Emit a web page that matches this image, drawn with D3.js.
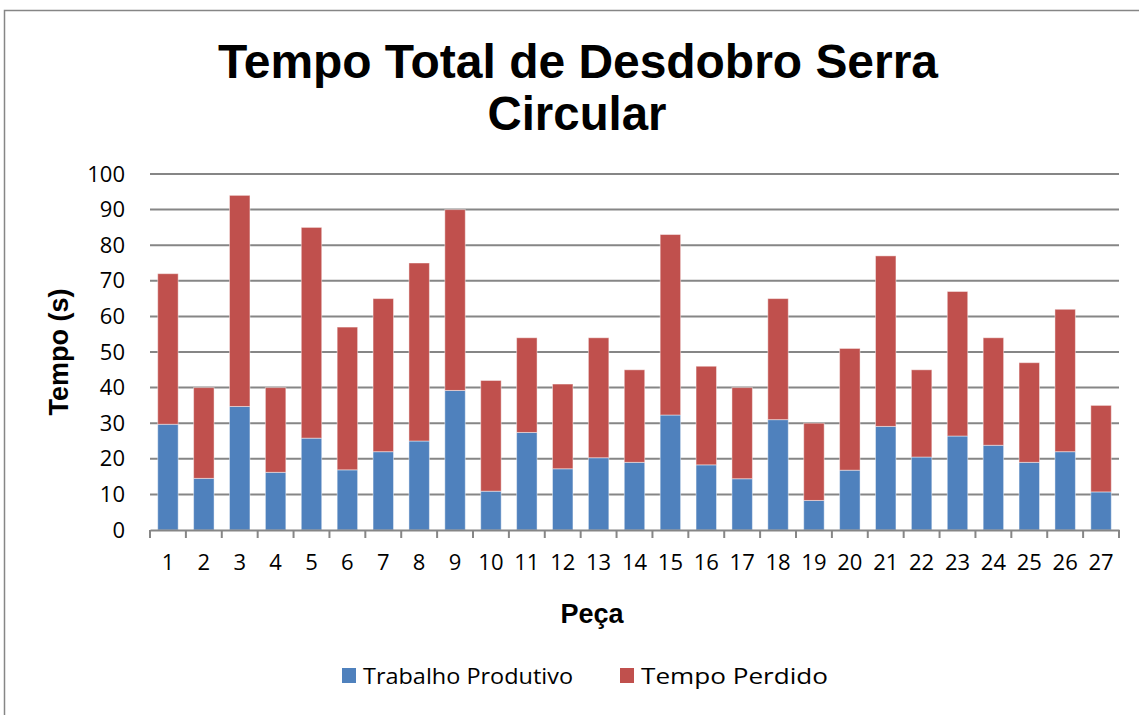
<!DOCTYPE html>
<html>
<head>
<meta charset="utf-8">
<script src="https://cdn.jsdelivr.net/npm/d3@7"></script>
<style>
  body { margin: 0; background: #fff; }
  svg { display: block; }
</style>
</head>
<body>
<script>
// DATA
const pecas = d3.range(1, 28).map(String);
const trabalhoProdutivo = [29.7, 14.5, 34.7, 16.2, 25.8, 16.9, 22.0, 25.0, 39.2, 10.9, 27.4, 17.2, 20.3, 19.0, 32.3, 18.3, 14.4, 31.0, 8.3, 16.8, 29.1, 20.5, 26.4, 23.8, 19.0, 22.0, 10.7];
const tempoTotal = [72, 40, 94, 40, 85, 57, 65, 75, 90, 42, 54, 41, 54, 45, 83, 46, 40, 65, 30, 51, 77, 45, 67, 54, 47, 62, 35];
const tempoPerdido = tempoTotal.map((t, i) => +(t - trabalhoProdutivo[i]).toFixed(1));
const yTicks = [0, 10, 20, 30, 40, 50, 60, 70, 80, 90, 100];
const seriesNames = ["Trabalho Produtivo", "Tempo Perdido"];
const colors = ["#4F81BD", "#C0504D"];

// SIZES
const W = 1139, H = 715;
const plot = {left: 150, right: 1119, top: 174, bottom: 530};

const svg = d3.select("body").append("svg")
  .attr("width", W)
  .attr("height", H);

// CHART BORDER
svg.append("rect")
  .attr("x", 4.5).attr("y", 10.5)
  .attr("width", W + 10).attr("height", H + 10)
  .attr("fill", "#fff")
  .attr("stroke", "#868686")
  .attr("stroke-width", 1.5);

// SCALES
const x = d3.scaleBand()
  .domain(pecas)
  .range([plot.left, plot.right])
  .paddingInner(0.43)
  .paddingOuter(0.215);

const y = d3.scaleLinear()
  .domain([0, 100])
  .range([plot.bottom, plot.top]);

// GRIDLINES
svg.append("g")
  .selectAll("line")
  .data(yTicks.filter(d => d > 0))
  .join("line")
  .attr("x1", plot.left).attr("x2", plot.right)
  .attr("y1", d => y(d)).attr("y2", d => y(d))
  .attr("stroke", "#868686")
  .attr("stroke-width", 2);

// STACKED BARS
const table = pecas.map((p, i) => ({peca: p, "Trabalho Produtivo": trabalhoProdutivo[i], "Tempo Perdido": tempoPerdido[i]}));
const stacked = d3.stack().keys(seriesNames)(table);

svg.append("g")
  .selectAll("g")
  .data(stacked)
  .join("g")
  .attr("fill", (d, i) => colors[i])
  .selectAll("rect")
  .data(d => d)
  .join("rect")
  .attr("x", d => x(d.data.peca))
  .attr("y", d => y(d[1]))
  .attr("width", x.bandwidth())
  .attr("height", d => y(d[0]) - y(d[1]))
  .attr("stroke", "rgba(255,255,255,0.45)")
  .attr("stroke-width", 1);

// X AXIS
const xAxis = svg.append("g")
  .attr("transform", `translate(0,${plot.bottom})`)
  .call(d3.axisBottom(x).tickSize(0).tickPadding(24));
xAxis.select(".domain").attr("stroke", "#868686").attr("stroke-width", 2);
xAxis.selectAll("text")
  .style("font-family", "'Open Sans', sans-serif")
  .style("font-size", "22px")
  .attr("fill", "#000");

// category boundary ticks
svg.append("g")
  .selectAll("line")
  .data(d3.range(pecas.length + 1))
  .join("line")
  .attr("x1", i => plot.left + i * x.step())
  .attr("x2", i => plot.left + i * x.step())
  .attr("y1", plot.bottom)
  .attr("y2", plot.bottom + 8)
  .attr("stroke", "#868686")
  .attr("stroke-width", 2);

// Y AXIS
const yAxis = svg.append("g")
  .attr("transform", `translate(${plot.left},0)`)
  .call(d3.axisLeft(y).tickValues(yTicks).tickSize(0).tickPadding(25));
yAxis.select(".domain").remove();
yAxis.selectAll("text")
  .style("font-family", "'Open Sans', sans-serif")
  .style("font-size", "22px")
  .attr("fill", "#000");

// TITLE
const title = svg.append("text")
  .attr("text-anchor", "middle")
  .style("font-family", "'Liberation Sans', Arial, sans-serif")
  .style("font-weight", "bold")
  .style("font-size", "48px");
title.append("tspan").attr("x", 578).attr("y", 78)
  .attr("textLength", 720).attr("lengthAdjust", "spacingAndGlyphs")
  .text("Tempo Total de Desdobro Serra");
title.append("tspan").attr("x", 577).attr("y", 130)
  .attr("textLength", 179).attr("lengthAdjust", "spacingAndGlyphs")
  .text("Circular");

// X LABEL
svg.append("text")
  .attr("x", 592).attr("y", 623)
  .attr("text-anchor", "middle")
  .style("font-family", "'Liberation Sans', Arial, sans-serif")
  .style("font-weight", "bold")
  .style("font-size", "27px")
  .text("Peça");

// Y LABEL
svg.append("text")
  .attr("transform", "translate(68,352) rotate(-90)")
  .attr("text-anchor", "middle")
  .style("font-family", "'Liberation Sans', Arial, sans-serif")
  .style("font-weight", "bold")
  .style("font-size", "27px")
  .text("Tempo (s)");

// LEGEND
const legendX = [342, 620];
const legendW = [210, 187];
const legend = svg.append("g")
  .selectAll("g")
  .data(seriesNames)
  .join("g")
  .attr("transform", (d, i) => `translate(${legendX[i]},668)`);
legend.append("rect")
  .attr("width", 14).attr("height", 15)
  .attr("fill", (d, i) => colors[i]);
legend.append("text")
  .attr("x", 21).attr("y", 16)
  .attr("textLength", (d, i) => legendW[i])
  .attr("lengthAdjust", "spacingAndGlyphs")
  .style("font-family", "'Open Sans', sans-serif")
  .style("font-size", "22px")
  .attr("fill", "#000")
  .text(d => d);
</script>
</body>
</html>
